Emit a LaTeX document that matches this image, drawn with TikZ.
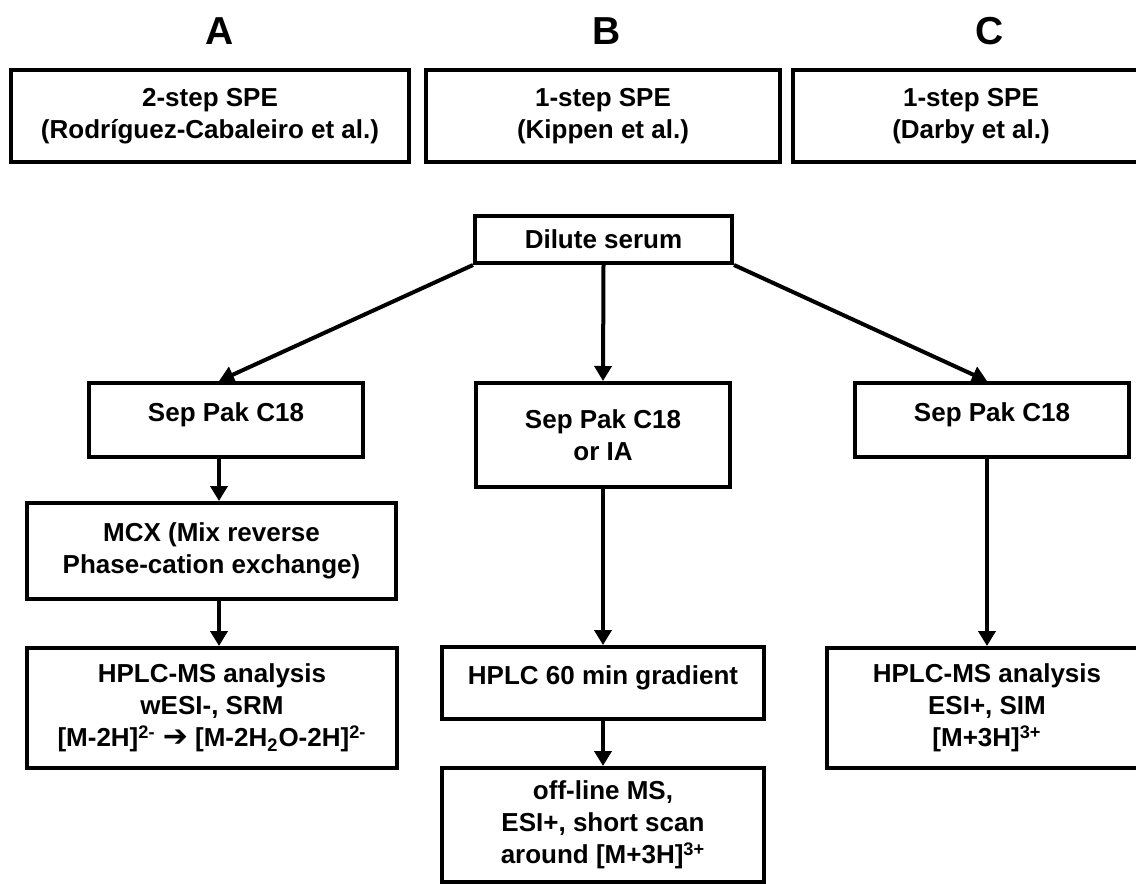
\documentclass[tikz,border=0pt]{standalone}
\usepackage{fontspec}
\setmainfont{Liberation Sans}
\newfontfamily\dingfont{DejaVu Sans}
\usetikzlibrary{arrows.meta}

\begin{document}
\begin{tikzpicture}[x=0.5pt,y=-0.5pt]
        \tikzstyle{every node}=[rectangle, draw=black, line width=2pt, inner sep=0pt, align=center, font=\fontsize{13}{16}\selectfont\bfseries, text=black]
        \tikzstyle{title}=[draw=none, font=\fontsize{19.5}{22}\selectfont\bfseries]
        \tikzstyle{raised}=[text height=10pt, text depth=8.7pt]
        \tikzstyle{edge}=[black, line width=2pt, -{Triangle[width=8.5pt,length=7.5pt]}]

        \useasboundingbox (0,0) rectangle (1136,884);

        \node[title] (tA) at (220,31)  {A};
        \node[title] (tB) at (607,31)  {B};
        \node[title] (tC) at (990,31)  {C};

        \node[minimum width=199pt, minimum height=46pt] (hA) at (210,116) {2-step SPE\\(Rodríguez-Cabaleiro et al.)};
        \node[minimum width=177pt, minimum height=46pt] (hB) at (603,116) {1-step SPE\\(Kippen et al.)};
        \node[minimum width=178pt, minimum height=46pt] (hC) at (971,116) {1-step SPE\\(Darby et al.)};

        \node[minimum width=128.5pt, minimum height=23.5pt] (dil) at (603.5,239.5) {Dilute serum};

        \node[raised, minimum width=137pt, minimum height=37pt] (sepA) at (226,420) {Sep Pak C18};
        \node[minimum width=127pt, minimum height=52pt] (sepB) at (603,435) {Sep Pak C18\\or IA};
        \node[raised, minimum width=137pt, minimum height=37pt] (sepC) at (992,420) {Sep Pak C18};

        \node[minimum width=184.5pt, minimum height=48pt] (mcx) at (211.5,551) {MCX (Mix reverse\\Phase-cation exchange)};
        \node[minimum width=185pt, minimum height=60pt] (hplcA) at (212,708) {HPLC-MS analysis\\wESI-, SRM\\{}[M-2H]\textsuperscript{2-} {\dingfont\fontsize{15}{16}\selectfont ➔} [M-2H\textsubscript{2}O-2H]\textsuperscript{2-}};
        \node[raised, minimum width=161pt, minimum height=36pt] (hplcB) at (603,683) {HPLC 60 min gradient};
        \node[minimum width=161pt, minimum height=57pt] (msB) at (603,825) {off-line MS,\\ESI+, short scan\\around [M+3H]\textsuperscript{3+}};
        \node[minimum width=160pt, minimum height=60pt] (hplcC) at (987,708) {HPLC-MS analysis\\ESI+, SIM\\{}[M+3H]\textsuperscript{3+}};

        \coordinate (colA) at (219,0);
        \coordinate (colC) at (987,0);

        \draw[edge] (dil.south west) -- (sepA.north -| colA);
        \draw[edge] (dil.south) -- (sepB.north);
        \draw[edge] (dil.south east) -- (sepC.north -| colC);
        \draw[edge] (sepA.south -| colA) -- (mcx.north -| colA);
        \draw[edge] (mcx.south -| colA) -- (hplcA.north -| colA);
        \draw[edge] (sepB) -- (hplcB);
        \draw[edge] (hplcB) -- (msB);
        \draw[edge] (sepC.south -| colC) -- (hplcC.north -| colC);
    \end{tikzpicture}
\end{document}
